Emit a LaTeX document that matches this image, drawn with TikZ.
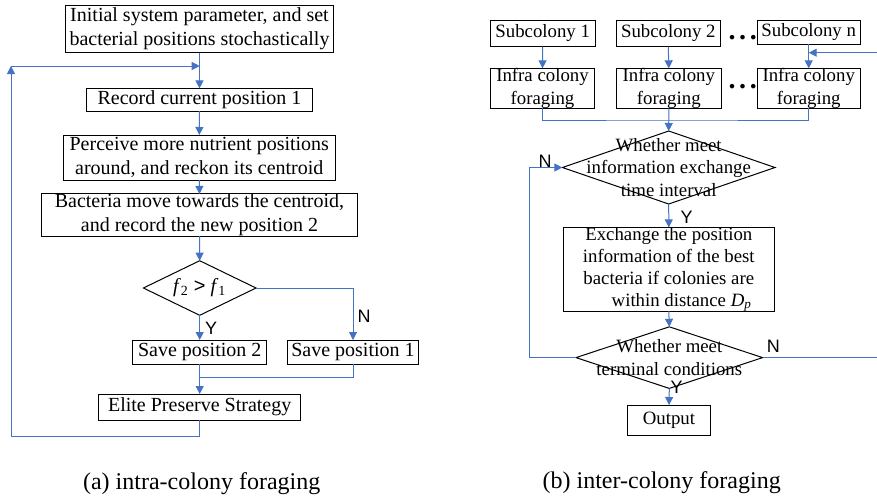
\documentclass[tikz,border=0pt]{standalone}
\usepackage{fontspec}
\setmainfont{Liberation Serif}
\newfontfamily\labelfont{Liberation Sans}
\usetikzlibrary{arrows.meta,shapes.geometric}
\definecolor{lineblue}{RGB}{68,114,196}

\tikzset{
  box/.style={draw, line width=0.5pt, inner sep=0pt, outer sep=0pt, align=center, font=\fontsize{10}{12}\selectfont},
  rbox/.style={box, font=\fontsize{9.4}{11.3}\selectfont},
  decision/.style={draw, diamond, line width=0.5pt, inner sep=0pt, outer sep=0pt},
  flow/.style={lineblue, line width=0.5pt, -{Triangle[length=4pt,width=4pt]}},
  link/.style={lineblue, line width=0.5pt},
  yn/.style={font=\labelfont\fontsize{9}{9}\selectfont, inner sep=0pt},
  dots/.style={font=\fontsize{14}{14}\selectfont\bfseries, inner sep=0pt},
  caption/.style={font=\fontsize{12}{14}\selectfont, inner sep=0pt}
}

\begin{document}
\begin{tikzpicture}[x=0.5pt,y=-0.5pt]
\useasboundingbox (0,0) rectangle (877,499);

% (a) intra-colony foraging
\node[box, minimum width=133.8pt, minimum height=23.8pt] (init) at (199.5,29) {Initial system parameter, and set\\bacterial positions stochastically};
\node[box, minimum width=112.8pt, minimum height=11.3pt] (rec) at (199.5,99.7) {Record current position 1};
\node[box, minimum width=136pt, minimum height=22.5pt] (perc) at (199.3,157.5) {Perceive more nutrient positions\\around, and reckon its centroid};
\node[box, minimum width=158.2pt, minimum height=20pt] (move) at (199.5,215) {Bacteria move towards the centroid,\\and record the new position 2};
\node[decision, minimum width=56.3pt, minimum height=27.3pt] (cmp) at (199.7,288) {};
\node[font=\fontsize{10}{12}\selectfont, inner sep=0pt] (cmptext) at (cmp) {\textit{f}\textsubscript{2} {\labelfont >} \textit{f}\textsubscript{1}};
\node[box, minimum width=67pt, minimum height=12pt] (keep2) at (199.7,352) {Save position 2};
\node[box, minimum width=65.7pt, minimum height=12pt] (keep1) at (353,352) {Save position 1};
\node[box, minimum width=101pt, minimum height=13pt] (elite) at (199.7,407) {Elite Preserve Strategy};

\coordinate (loopa) at (11,436);
\coordinate (loopb) at (11,66);
\coordinate (join) at (199.7,66);
\coordinate (mrga) at (199.7,377.3);

\draw[flow] (init.south) -- (rec.north);
\draw[flow] (rec.south) -- (perc.north);
\draw[flow] (perc.south) -- (move.north);
\draw[flow] (move.south) -- (cmp.north);
\draw[flow] (cmp.south) -- (keep2.north);
\draw[flow] (cmp.east) -| (keep1.north);
\draw[link] (keep1.south) |- (mrga);
\draw[flow] (keep2.south) -- (elite.north);
\draw[flow] (elite.south) |- (loopa) -- (loopb);
\draw[flow] (loopb) -- (join);

\node[yn] (ya) at (211,328) {Y};
\node[yn] (na) at (364,316) {N};

\node[caption] (capa) at (201.7,483.3) {(a) intra-colony foraging};

% (b) inter-colony foraging
\node[rbox, minimum width=52.7pt, minimum height=13.3pt] (sub1) at (542.7,33.3) {Subcolony 1};
\node[rbox, minimum width=51.7pt, minimum height=13.3pt] (sub2) at (668.3,33.3) {Subcolony 2};
\node[rbox, minimum width=51.3pt, minimum height=12.2pt] (subn) at (808.7,32.2) {Subcolony n};
\node[rbox, minimum width=51.8pt, minimum height=20pt] (inf1) at (542.5,88.3) {Infra colony\\foraging};
\node[rbox, minimum width=52.8pt, minimum height=20pt] (inf2) at (668.8,88.3) {Infra colony\\foraging};
\node[rbox, minimum width=51.3pt, minimum height=20pt] (infn) at (808.7,88.3) {Infra colony\\foraging};
\node[dots] (dotsa) at (742.7,38) {.\kern1.8pt.\kern1.8pt.};
\node[dots] (dotsb) at (742.7,87) {.\kern1.8pt.\kern1.8pt.};

\node[decision, minimum width=106.3pt, minimum height=36.5pt] (ask) at (668.7,167.5) {};
\node[align=center, font=\fontsize{9.4}{11.3}\selectfont, inner sep=0pt] (asktext) at (ask) {Whether meet\\information exchange\\time interval};
\node[rbox, font=\fontsize{9.4}{10.9}\selectfont, minimum width=105.5pt, minimum height=41.8pt] (swap) at (668.8,269.2) {Exchange the position\\information of the best\\bacteria if colonies are\\\hspace*{13pt}within distance \textit{D}\textsubscript{\textit{p}}};
\node[decision, minimum width=93.3pt, minimum height=30.8pt] (stop) at (669.3,357.6) {};
\node[align=center, font=\fontsize{9.4}{11.3}\selectfont, inner sep=0pt] (stoptext) at (stop) {Whether meet\\terminal conditions};
\node[rbox, minimum width=41.7pt, minimum height=15pt] (out) at (669,420) {Output};

\coordinate (mrgb) at (668.7,120);
\coordinate (back) at (808.7,52.7);

\draw[flow] (sub1.south) -- (inf1.north);
\draw[flow] (sub2.south) -- (inf2.north);
\draw[flow] (subn.south) -- (infn.north);
\draw[link] (inf1.south) |- (mrgb) -| (infn.south);
\draw[flow] (inf2.south) -- (ask.north);
\draw[flow] (ask.south) -- (swap.north);
\draw[flow] (swap.south) -- (stop.north);
\draw[flow] (stop.south) -- (out.north);
\draw[flow] (stop.west) -- (529,357.6) |- (ask.west);
\draw[flow] (stop.east) -- (880,357.6) |- (back);

\node[yn] (nb) at (545,161.7) {N};
\node[yn] (yb) at (686.7,216.8) {Y};
\node[yn] (nc) at (773.3,346) {N};
\node[yn] (yc) at (676.7,387.3) {Y};

\node[caption] (capb) at (661.7,482.7) {(b) inter-colony foraging};
\end{tikzpicture}
\end{document}
